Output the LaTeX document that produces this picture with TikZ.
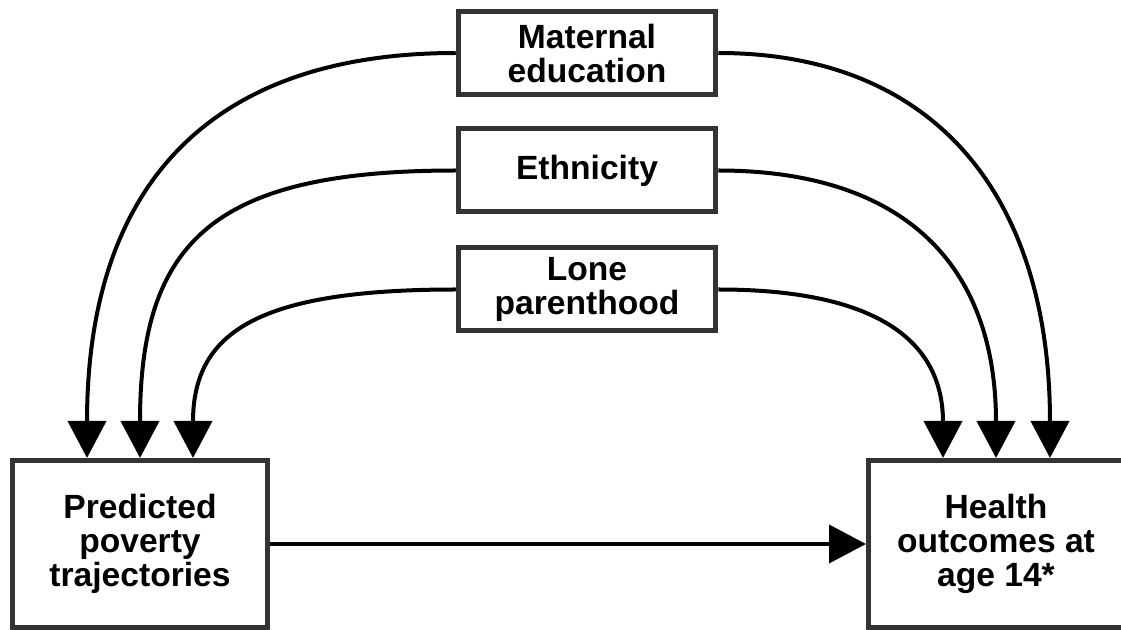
\documentclass[tikz,border=0pt]{standalone}
\usepackage{fontspec}
\setmainfont{Liberation Sans}
\usetikzlibrary{arrows.meta, calc}

\definecolor{boxgray}{HTML}{333333}

\tikzset{
	box/.style = {draw = boxgray, line width = 2.5pt, fill = white, align = center,
		font = \fontsize{16.8}{17}\selectfont\bfseries, inner sep = 0pt},
	confounder/.style = {box, minimum width = 128.75pt, minimum height = 41.5pt},
	endpoint/.style = {box, minimum width = 127.5pt, minimum height = 83.5pt},
	link/.style = {line width = 2pt, -{Triangle[length = 18.5pt, width = 19pt]}}
}

\begin{document}
\begin{tikzpicture}[x = 0.5pt, y = -0.5pt]

	% Page size (pixels of the figure)
	
	\useasboundingbox (0, 0) rectangle (1121, 630);

	% Confounders
	
	\node [confounder] (mat) at (587, 53) {Maternal\\education};
	\node [confounder] (eth) at (587, 170.5) {Ethnicity};
	\node [confounder] (lone) at (587, 289.5) {Lone\\parenthood};

	% Exposure and outcome
	
	\node [endpoint] (pov) at (140, 544) {Predicted\\poverty\\trajectories};
	\node [endpoint] (hlth) at (996, 544) {Health\\outcomes at\\age 14*};

	% Arrow targets on top of the boxes
	
	\coordinate (pa) at ($(pov.north) + (-53, 0)$);
	\coordinate (pb) at (pov.north);
	\coordinate (pc) at ($(pov.north) + (53, 0)$);
	\coordinate (ha) at ($(hlth.north) + (-53, 0)$);
	\coordinate (hb) at (hlth.north);
	\coordinate (hc) at ($(hlth.north) + (54, 0)$);

	% Curved arrows from the confounders
	
	\foreach \s/\t/\k in {mat.west/pa/0.67, eth.west/pb/0.76, lone.west/pc/0.75,
		mat.east/hc/0.65, eth.east/hb/0.67, lone.east/ha/0.7}
		\draw [link] (\s) .. controls ($(\s)!\k!(\s -| \t)$) and ($(\t)!\k!(\s -| \t)$) .. (\t);

	% Main path
	
	\draw [link] (pov) -- (hlth);

\end{tikzpicture}
\end{document}
